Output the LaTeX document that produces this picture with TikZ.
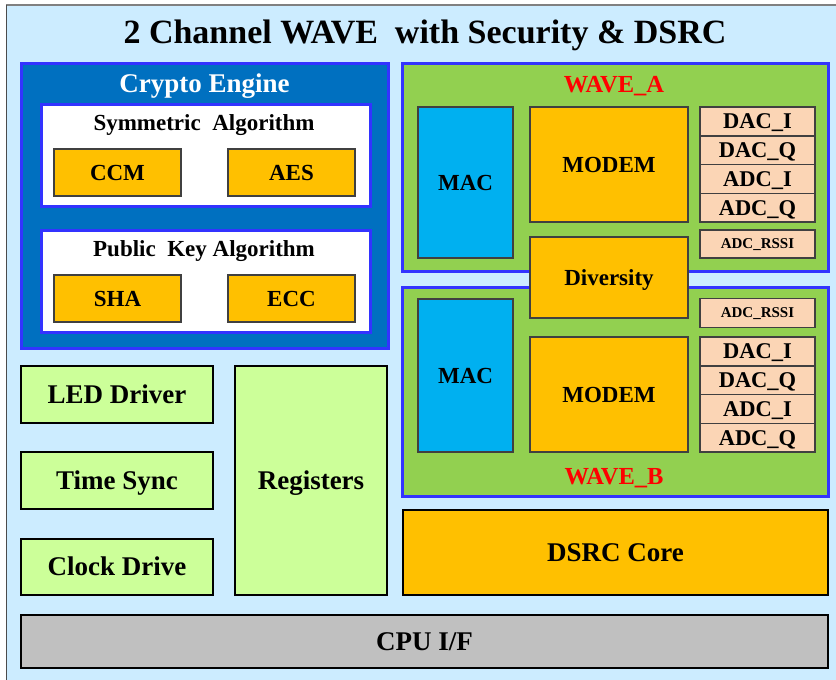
\documentclass[tikz,border=0pt]{standalone}
\usepackage{fontspec}
\setmainfont{Liberation Serif}
\definecolor{bgblue}{HTML}{CCECFF}
\definecolor{cryptoblue}{HTML}{0070C0}
\definecolor{brightblue}{HTML}{3333FF}
\definecolor{orng}{HTML}{FFC000}
\definecolor{wgreen}{HTML}{92D050}
\definecolor{macblue}{HTML}{00B0F0}
\definecolor{peach}{HTML}{FBD5B5}
\definecolor{lgreen}{HTML}{CCFF99}
\definecolor{cpugray}{HTML}{C0C0C0}
\definecolor{edgegray}{HTML}{404040}
\newcommand{\fs}[1]{\fontsize{#1}{#1}\selectfont\bfseries}
\begin{document}
\begin{tikzpicture}[x=1pt,y=-1pt,
  every node/.style={inner sep=0pt,outer sep=0pt,text=black,text depth=0pt},
  bluebox/.style={draw=brightblue,line width=3pt,rectangle},
  orangebox/.style={draw=edgegray,fill=orng,line width=1.5pt,font=\fs{23},text height=15.2pt},
  macbox/.style={draw=edgegray,fill=macblue,line width=1.5pt,font=\fs{23},text height=15.2pt},
  peachbox/.style={draw=edgegray,fill=peach,line width=1.5pt,minimum width=115pt,font=\fs{22.5},text height=14.9pt},
  rssibox/.style={peachbox,font=\fs{15},text height=9.9pt},
  greenbox/.style={draw=black,fill=lgreen,line width=2.5pt,font=\fs{27},text height=17.8pt},
  heading/.style={font=\fs{23},text height=15.2pt},
  wavelabel/.style={font=\fs{24.5},text=red,text height=16.2pt}]
\useasboundingbox (0,0) rectangle (836,680);
% background
\fill[bgblue] (6,5) rectangle (836,680);
\draw[gray,line width=2pt] (6,5) -- (836,5);
\draw[black!70,line width=1pt] (6.5,5) -- (6.5,680);
% title
\node[font=\fs{34},text height=22.5pt] (title) at (425,32) {2 Channel WAVE\ \ with Security \& DSRC};
% crypto engine
\node[bluebox,fill=cryptoblue,minimum width=367pt,minimum height=285pt] (crypto) at (204.5,205.5) {};
\node[font=\fs{27},text=white,text height=17.8pt] (cryptotitle) at (204.5,84) {Crypto Engine};
\node[bluebox,fill=white,minimum width=329pt,minimum height=102pt] (sym) at (205.5,155) {};
\node[heading] (symtitle) at (204,123) {Symmetric\ \ Algorithm};
\node[orangebox,minimum width=127pt,minimum height=47pt] (ccm) at (117.5,172.5) {CCM};
\node[orangebox,minimum width=127pt,minimum height=47pt] (aes) at (291.5,172.5) {AES};
\node[bluebox,fill=white,minimum width=329pt,minimum height=102pt] (pub) at (205.5,281) {};
\node[heading] (pubtitle) at (204,249) {Public\ \ Key Algorithm};
\node[orangebox,minimum width=127pt,minimum height=47pt] (sha) at (117.5,298.5) {SHA};
\node[orangebox,minimum width=127pt,minimum height=47pt] (ecc) at (291.5,298.5) {ECC};
% WAVE A
\node[bluebox,fill=wgreen,minimum width=426pt,minimum height=208pt] (wavea) at (615,167) {};
\node[wavelabel] (wavealabel) at (614,84) {WAVE\_A};
\node[macbox,minimum width=95pt,minimum height=151pt] (maca) at (465.5,182.5) {MAC};
\node[orangebox,minimum width=158pt,minimum height=115pt] (modema) at (609,164.5) {MODEM};
\node[peachbox,minimum height=28.75pt] (dacia) at (757.5,121.375) {DAC\_I};
\node[peachbox,minimum height=28.75pt] (dacqa) at (757.5,150.125) {DAC\_Q};
\node[peachbox,minimum height=28.75pt] (adcia) at (757.5,178.875) {ADC\_I};
\node[peachbox,minimum height=28.75pt] (adcqa) at (757.5,207.625) {ADC\_Q};
\node[rssibox,minimum height=28pt] (rssia) at (757.5,244) {ADC\_RSSI};
% WAVE B
\node[bluebox,fill=wgreen,minimum width=426pt,minimum height=209pt] (waveb) at (615,391.5) {};
\node[wavelabel] (waveblabel) at (614,476) {WAVE\_B};
\node[macbox,minimum width=95pt,minimum height=153pt] (macb) at (465.5,375.5) {MAC};
\node[orangebox,minimum width=158pt,minimum height=115pt] (modemb) at (609,394.5) {MODEM};
\node[rssibox,minimum height=29pt] (rssib) at (757.5,313) {ADC\_RSSI};
\node[peachbox,minimum height=28.75pt] (dacib) at (757.5,351.375) {DAC\_I};
\node[peachbox,minimum height=28.75pt] (dacqb) at (757.5,380.125) {DAC\_Q};
\node[peachbox,minimum height=28.75pt] (adcib) at (757.5,408.875) {ADC\_I};
\node[peachbox,minimum height=28.75pt] (adcqb) at (757.5,437.625) {ADC\_Q};
% diversity spans both
\node[orangebox,minimum width=158pt,minimum height=81pt] (div) at (609,277.5) {Diversity};
% left lower blocks
\node[greenbox,minimum width=192pt,minimum height=57pt] (led) at (117,394.5) {LED\ Driver};
\node[greenbox,minimum width=192pt,minimum height=57pt] (tsync) at (117,480.5) {Time Sync};
\node[greenbox,minimum width=192pt,minimum height=56pt] (clk) at (117,567) {Clock Drive};
\node[greenbox,minimum width=152pt,minimum height=229pt] (regs) at (311,480.5) {Registers};
\node[greenbox,fill=orng,minimum width=425pt,minimum height=85pt] (dsrc) at (615.5,552.5) {DSRC Core};
\node[greenbox,fill=cpugray,minimum width=807pt,minimum height=53pt] (cpu) at (424.5,641.5) {CPU I/F};
\end{tikzpicture}
\end{document}
